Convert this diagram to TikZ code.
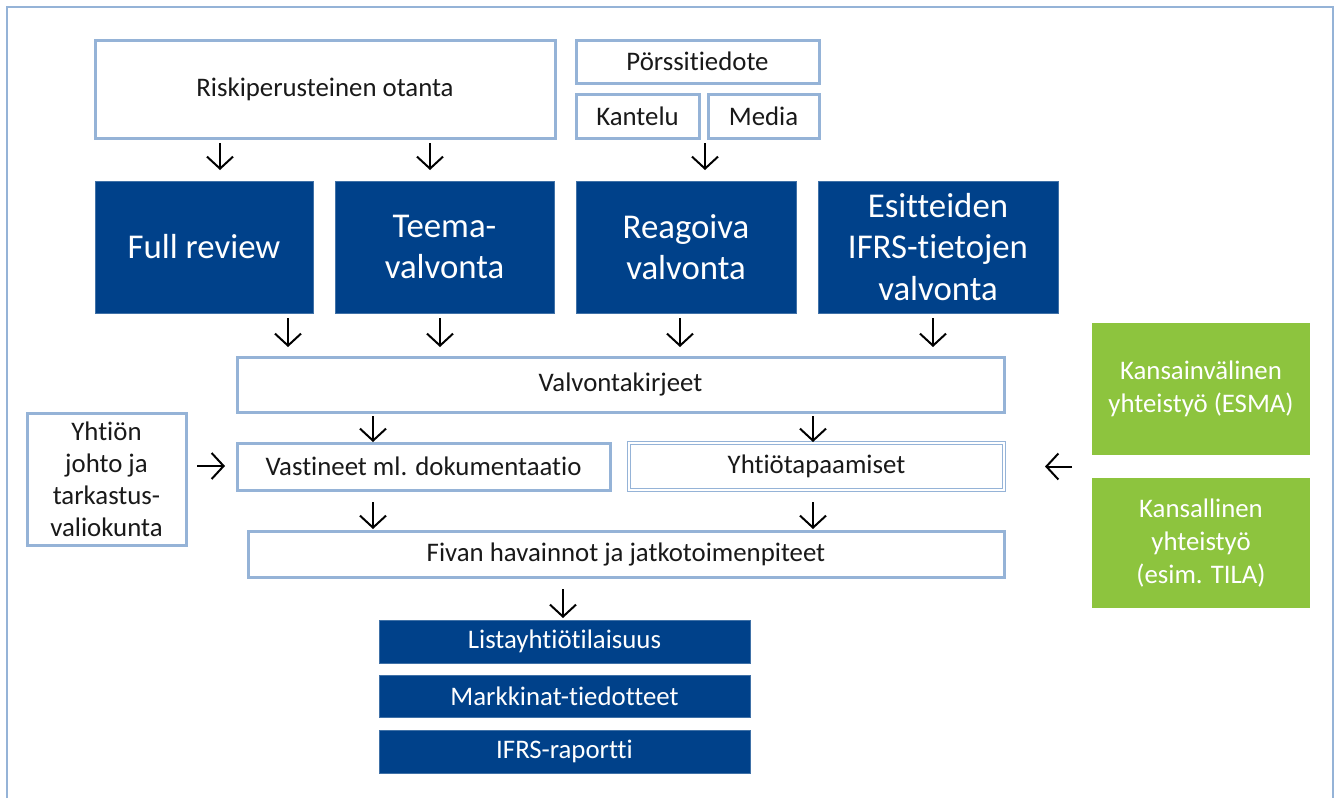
\documentclass[tikz,border=0pt]{standalone}
\usepackage{fontspec}
\setmainfont{Carlito}[Ligatures={NoCommon}]
\usetikzlibrary{arrows.meta,calc}
\definecolor{lb}{RGB}{149,179,215}
\definecolor{db}{RGB}{0,65,138}
\definecolor{gr}{RGB}{141,196,62}
\definecolor{txt}{RGB}{25,25,25}
\tikzset{
  frame/.style={draw=lb, line width=2pt},
  wbox/.style={draw=lb, line width=3pt, fill=white, text=txt, font=\fontsize{26.8}{32}\selectfont,
    align=center, inner sep=0pt, outer sep=0pt, anchor=north west},
  dbox/.style={wbox, line width=1pt, double=white, double distance=2pt},
  bbox/.style={fill=db, draw=db!75!white, line width=0.6pt, text=white, font=\fontsize{34.8}{41.5}\selectfont,
    align=center, inner sep=0pt, outer sep=0pt, anchor=north west},
  sbbox/.style={bbox, font=\fontsize{26.8}{32}\selectfont},
  gbox/.style={fill=gr, text=white, font=\fontsize{26.8}{33}\selectfont,
    align=center, inner sep=0pt, outer sep=0pt, anchor=north west},
  arr/.style={draw=black, line width=2pt, -{Straight Barb[length=12pt,width=26pt]}}
}
\begin{document}
\begin{tikzpicture}[x=1pt,y=-1pt]
\useasboundingbox (0,0) rectangle (1338,798);
\draw[frame] (6.5,798) -- (6.5,6.5) -- (1333,6.5) -- (1333,798);

% top white boxes
\node[wbox, minimum width=460pt, minimum height=98pt] (risk) at (95,40) {Riskiperusteinen otanta};
\node[wbox, minimum width=243pt, minimum height=43pt] (porssi) at (576,40) {Pörssitiedote};
\node[wbox, minimum width=123pt, minimum height=44pt] (kantelu) at (576,94) {Kantelu};
\node[wbox, minimum width=111pt, minimum height=44pt] (media) at (708,94) {Media};

% blue boxes
\node[bbox, minimum width=218pt, minimum height=132pt] (full) at (95,181) {Full review};
\node[bbox, minimum width=219pt, minimum height=132pt] (teema) at (335,181) {Teema-\\valvonta};
\node[bbox, minimum width=220pt, minimum height=132pt] (reag) at (576,181) {Reagoiva\\valvonta};
\node[bbox, minimum width=240pt, minimum height=132pt] (esit) at (818,181) {Esitteiden\\IFRS-tietojen\\valvonta};

% middle
\node[wbox, minimum width=767pt, minimum height=55pt] (valv) at (237,357) {Valvontakirjeet};
\node[wbox, minimum width=159pt, minimum height=132pt] (johto) at (27,413) {Yhtiön\\johto ja\\tarkastus-\\valiokunta};
\node[wbox, minimum width=373pt, minimum height=47pt] (vast) at (237,443) {Vastineet ml. dokumentaatio};
\node[dbox, minimum width=375pt, minimum height=47pt] (ytap) at (629,443) {Yhtiötapaamiset};
\node[wbox, minimum width=756pt, minimum height=46pt] (fiva) at (248,531) {Fivan havainnot ja jatkotoimenpiteet};

% green
\node[gbox, minimum width=218pt, minimum height=132pt] (esma) at (1092,323) {Kansainvälinen\\yhteistyö (ESMA)};
\node[gbox, minimum width=218pt, minimum height=130pt] (tila) at (1092,478) {Kansallinen\\yhteistyö\\(esim. TILA)};

% bottom
\node[sbbox, minimum width=371pt, minimum height=43pt] (list) at (379,620) {Listayhtiötilaisuus};
\node[sbbox, minimum width=371pt, minimum height=42pt] (mark) at (379,675) {Markkinat-tiedotteet};
\node[sbbox, minimum width=371pt, minimum height=43pt] (ifrs) at (379,730) {IFRS-raportti};

% arrow columns
\coordinate (c220) at (220,0);
\coordinate (c430) at (430,0);
\coordinate (c705) at (705,0);
\coordinate (c288) at (288,0);
\coordinate (c440) at (440,0);
\coordinate (c680) at (680,0);
\coordinate (c933) at (933,0);
\coordinate (c373) at (373,0);
\coordinate (c813) at (813,0);
\coordinate (c563) at (563,0);
\coordinate (r466) at (0,466);
\coordinate (gm) at ($(esma.south west)!0.5!(tila.north west)$);

\draw[arr, shorten <=5pt, shorten >=11pt] (risk.south -| c220) -- (full.north -| c220);
\draw[arr, shorten <=5pt, shorten >=11pt] (risk.south -| c430) -- (teema.north -| c430);
\draw[arr, shorten <=5pt, shorten >=11pt] (media.south -| c705) -- (reag.north -| c705);

\draw[arr, shorten <=5pt, shorten >=10pt] (full.south -| c288) -- (valv.north -| c288);
\draw[arr, shorten <=5pt, shorten >=10pt] (teema.south -| c440) -- (valv.north -| c440);
\draw[arr, shorten <=5pt, shorten >=10pt] (reag.south -| c680) -- (valv.north -| c680);
\draw[arr, shorten <=5pt, shorten >=10pt] (esit.south -| c933) -- (valv.north -| c933);

\draw[arr, shorten <=4pt, shorten >=1pt] (valv.south -| c373) -- (vast.north -| c373);
\draw[arr, shorten <=4pt, shorten >=1pt] (valv.south -| c813) -- (ytap.north -| c813);

\draw[arr, shorten <=12pt, shorten >=2pt] (vast.south -| c373) -- (fiva.north -| c373);
\draw[arr, shorten <=12pt, shorten >=2pt] (ytap.south -| c813) -- (fiva.north -| c813);

\draw[arr, shorten <=12pt, shorten >=2pt] (fiva.south -| c563) -- (list.north -| c563);

\draw[arr, shorten <=11pt, shorten >=12pt] (johto.east |- r466) -- (vast.west |- r466);
\draw[arr, shorten <=20pt, shorten >=41pt] (gm) -- (ytap.east |- gm);
\end{tikzpicture}
\end{document}
